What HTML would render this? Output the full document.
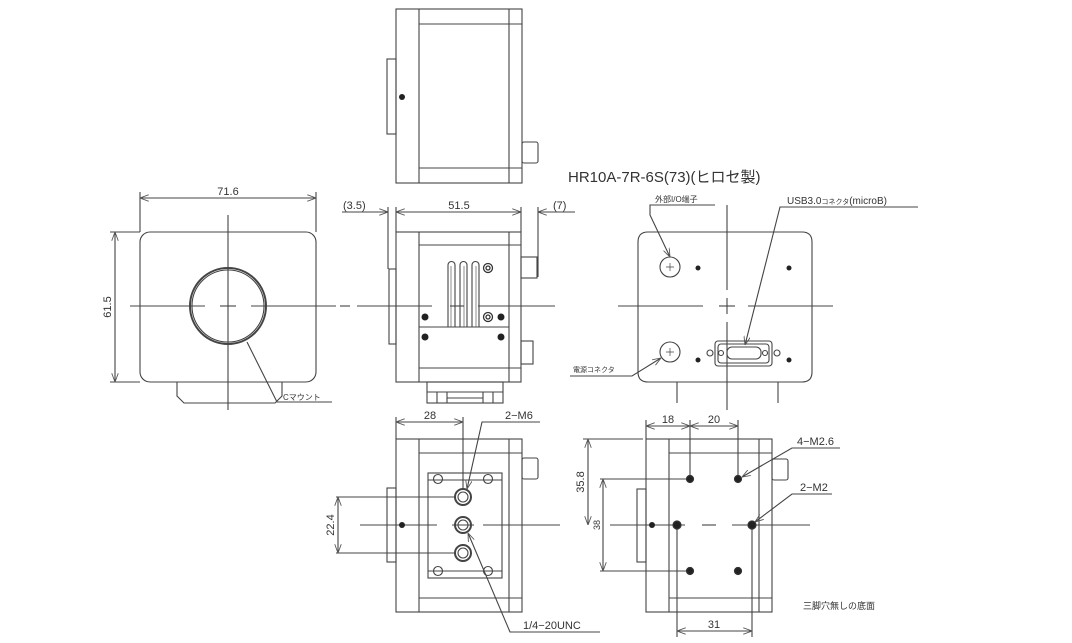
<!DOCTYPE html>
<html><head><meta charset="utf-8"><style>
html,body{margin:0;padding:0;background:#fff;}
svg{display:block;}
text{font-family:"Liberation Sans","Noto Sans CJK JP",sans-serif;fill:#333;}
</style></head><body>
<svg width="1072" height="643" viewBox="0 0 1072 643" xmlns="http://www.w3.org/2000/svg">
<defs>
<marker id="a" markerWidth="8" markerHeight="6" refX="8" refY="3" orient="auto-start-reverse"><path d="M0,0 L8,3 L0,6" fill="none" stroke="#555" stroke-width="0.8"/></marker>
</defs>
<g fill="none" stroke="#444" stroke-width="1.1">
<!-- TOP VIEW -->
<rect x="396" y="9" width="126" height="174"/>
<line x1="419" y1="9" x2="419" y2="183"/><line x1="509" y1="9" x2="509" y2="183"/>
<line x1="419" y1="24" x2="522" y2="24"/><line x1="419" y1="168" x2="522" y2="168"/>
<rect x="387" y="59" width="9" height="75"/>
<rect x="522" y="142" width="16" height="21" rx="2"/>

<!-- FRONT VIEW -->
<rect x="140" y="232" width="176" height="150" rx="10"/>
<path d="M177,382 V396 L184,403 H275 L282,396 V382"/>
<circle cx="228" cy="306" r="38" stroke-width="2"/>
<circle cx="228" cy="306" r="36"/>
<line x1="228" y1="215" x2="228" y2="410"/>
<line x1="130" y1="306" x2="205" y2="306"/><line x1="220" y1="306" x2="236" y2="306"/><line x1="251" y1="306" x2="336" y2="306"/>
<line x1="140" y1="232" x2="140" y2="192"/><line x1="316" y1="232" x2="316" y2="192"/>
<line x1="140" y1="198" x2="316" y2="198" marker-start="url(#a)" marker-end="url(#a)"/>
<line x1="140" y1="232" x2="110" y2="232"/><line x1="140" y1="382" x2="110" y2="382"/>
<line x1="115" y1="232" x2="115" y2="382" marker-start="url(#a)" marker-end="url(#a)"/>
<polyline points="247,342 277,402 332,402"/>

<!-- SIDE VIEW -->
<rect x="396" y="232" width="125" height="150"/>
<line x1="419" y1="232" x2="419" y2="382"/><line x1="509" y1="232" x2="509" y2="382"/>
<line x1="419" y1="245" x2="521" y2="245"/><line x1="419" y1="368" x2="521" y2="368"/>
<line x1="419" y1="327" x2="509" y2="327"/>
<rect x="389" y="269" width="7" height="75"/>
<rect x="521" y="257" width="16" height="21"/>
<rect x="521" y="341" width="12" height="23"/>
<path d="M448,327 V265 A3.5,3.5 0 0 1 455,265 V327 M460,327 V265 A3.5,3.5 0 0 1 467,265 V327 M472,327 V265 A3.5,3.5 0 0 1 479,265 V327"/>
<path d="M451,327 V266 M464,327 V266 M476,327 V266" stroke-width="0.6"/>
<rect x="427" y="382" width="76" height="21"/>
<line x1="427" y1="392" x2="503" y2="392"/><line x1="447" y1="398" x2="483" y2="398"/>
<line x1="437" y1="392" x2="437" y2="403"/><line x1="447" y1="392" x2="447" y2="403"/>
<line x1="483" y1="392" x2="483" y2="403"/><line x1="493" y1="392" x2="493" y2="403"/>
<line x1="340" y1="306" x2="350" y2="306"/><line x1="357" y1="306" x2="432" y2="306"/><line x1="450" y1="306" x2="464" y2="306"/><line x1="478" y1="306" x2="555" y2="306"/>
<line x1="342" y1="212" x2="388" y2="212" marker-end="url(#a)"/>
<line x1="396" y1="212" x2="521" y2="212" marker-start="url(#a)" marker-end="url(#a)"/>
<line x1="538" y1="212" x2="575" y2="212" marker-start="url(#a)"/>
<line x1="388" y1="207" x2="388" y2="269"/><line x1="396" y1="207" x2="396" y2="232"/>
<line x1="521" y1="207" x2="521" y2="232"/><line x1="538" y1="207" x2="538" y2="277"/>

<!-- BACK VIEW -->
<path d="M648,232 H802 Q812,232 812,242 V372 Q812,382 802,382 H648 Q638,382 638,372 V242 Q638,232 648,232 Z"/>
<path d="M677,382 V403 M778,382 V403"/>
<circle cx="670" cy="267" r="10"/><circle cx="670" cy="352" r="10"/>
<path d="M666,267 h8 M670,263 v8 M666,352 h8 M670,348 v8" stroke-width="0.7"/>
<rect x="715" y="341" width="57" height="25" rx="3"/>
<rect x="718" y="344" width="51" height="19" rx="3"/>
<rect x="727" y="347" width="34" height="12" rx="5"/>
<circle cx="710" cy="353" r="3"/><circle cx="721" cy="353" r="2.5"/><circle cx="765" cy="353" r="2.5"/><circle cx="777" cy="353" r="3"/>
<line x1="727" y1="205" x2="727" y2="290"/><line x1="727" y1="298" x2="727" y2="314"/><line x1="727" y1="322" x2="727" y2="410"/>
<line x1="618" y1="306" x2="703" y2="306"/><line x1="719" y1="306" x2="735" y2="306"/><line x1="748" y1="306" x2="833" y2="306"/>
<polyline points="715,205 650,205 650,215 670,257" marker-end="url(#a)"/>
<polyline points="918,207 780,207 745,345" marker-end="url(#a)"/>
<polyline points="570,376 632,376 661,358" marker-end="url(#a)"/>

<!-- BOTTOM LEFT VIEW -->
<rect x="396" y="439" width="126" height="173"/>
<line x1="419" y1="439" x2="419" y2="612"/><line x1="509" y1="439" x2="509" y2="612"/>
<line x1="419" y1="453" x2="522" y2="453"/><line x1="419" y1="598" x2="522" y2="598"/>
<rect x="428" y="473" width="74" height="105"/>
<line x1="428" y1="480" x2="502" y2="480"/><line x1="428" y1="571" x2="502" y2="571"/>
<rect x="387" y="488" width="9" height="74"/>
<rect x="522" y="458" width="16" height="21" rx="2"/>
<circle cx="463" cy="497" r="8" stroke-width="2"/><circle cx="463" cy="497" r="5"/>
<circle cx="463" cy="525" r="8" stroke-width="2"/><circle cx="463" cy="525" r="5"/>
<circle cx="463" cy="553" r="8" stroke-width="2"/><circle cx="463" cy="553" r="5"/>
<circle cx="438" cy="479" r="4.5"/><circle cx="488" cy="479" r="4.5"/><circle cx="438" cy="571" r="4.5"/><circle cx="488" cy="571" r="4.5"/>
<line x1="360" y1="525" x2="437" y2="525"/><line x1="452" y1="525" x2="474" y2="525"/><line x1="483" y1="525" x2="560" y2="525"/>
<line x1="396" y1="417" x2="396" y2="439"/><line x1="463" y1="417" x2="463" y2="489"/>
<line x1="396" y1="422" x2="463" y2="422" marker-start="url(#a)" marker-end="url(#a)"/>
<line x1="336" y1="497" x2="455" y2="497"/><line x1="336" y1="553" x2="455" y2="553"/>
<line x1="338" y1="497" x2="338" y2="553" marker-start="url(#a)" marker-end="url(#a)"/>
<polyline points="540,422 482,422 467,489" marker-end="url(#a)"/>
<polyline points="600,632 510,632 468,533" marker-end="url(#a)"/>

<!-- BOTTOM RIGHT VIEW -->
<rect x="646" y="439" width="126" height="173"/>
<line x1="669" y1="439" x2="669" y2="612"/><line x1="759" y1="439" x2="759" y2="612"/>
<line x1="669" y1="453" x2="772" y2="453"/><line x1="669" y1="598" x2="772" y2="598"/>
<rect x="637" y="489" width="9" height="73"/>
<rect x="772" y="459" width="16" height="21" rx="2"/>
<line x1="610" y1="525" x2="685" y2="525"/><line x1="702" y1="525" x2="716" y2="525"/><line x1="732" y1="525" x2="810" y2="525"/>
<line x1="646" y1="420" x2="646" y2="439"/><line x1="690" y1="420" x2="690" y2="479"/><line x1="738" y1="420" x2="738" y2="479"/>
<line x1="646" y1="426" x2="690" y2="426" marker-start="url(#a)" marker-end="url(#a)"/>
<line x1="690" y1="426" x2="738" y2="426" marker-start="url(#a)" marker-end="url(#a)"/>
<line x1="583" y1="439" x2="643" y2="439"/>
<line x1="588" y1="439" x2="588" y2="525" marker-start="url(#a)" marker-end="url(#a)"/>
<line x1="600" y1="479" x2="686" y2="479"/><line x1="600" y1="571" x2="686" y2="571"/>
<line x1="603" y1="479" x2="603" y2="571" marker-start="url(#a)" marker-end="url(#a)"/>
<line x1="677" y1="525" x2="677" y2="637"/><line x1="752" y1="525" x2="752" y2="637"/>
<line x1="677" y1="631" x2="752" y2="631" marker-start="url(#a)" marker-end="url(#a)"/>
<polyline points="840,448 792,448 742,477" marker-end="url(#a)"/>
<polyline points="832,494 792,494 755,522" marker-end="url(#a)"/>
</g>
<g fill="#222">
<circle cx="402" cy="97" r="3"/>
<circle cx="425" cy="317" r="3.5"/><circle cx="425" cy="337" r="3.5"/><circle cx="501" cy="317" r="3.5"/><circle cx="501" cy="337" r="3.5"/>
<circle cx="698" cy="268" r="2.5"/><circle cx="789" cy="268" r="2.5"/><circle cx="698" cy="360" r="2.5"/><circle cx="789" cy="360" r="2.5"/>
<circle cx="402" cy="525" r="3"/>
<circle cx="652" cy="525" r="3"/>
</g>
<g fill="none" stroke="#333" stroke-width="1.3">
<circle cx="488" cy="317" r="4.5"/><circle cx="488" cy="317" r="2"/>
<circle cx="488" cy="268" r="4.5"/><circle cx="488" cy="268" r="2"/>
</g>
<g fill="#222" stroke="#333" stroke-width="1.2">
<circle cx="690" cy="479" r="3.5"/><circle cx="738" cy="479" r="3.5"/><circle cx="690" cy="571" r="3.5"/><circle cx="738" cy="571" r="3.5"/>
<circle cx="677" cy="525" r="4"/><circle cx="752" cy="525" r="4"/>
</g>
<g font-size="11">
<text x="228" y="195" text-anchor="middle">71.6</text>
<text x="0" y="0" transform="translate(111,307) rotate(-90)" text-anchor="middle">61.5</text>
<text x="283" y="400" font-size="8">Cマウント</text>
<text x="343" y="209">(3.5)</text>
<text x="459" y="209" text-anchor="middle">51.5</text>
<text x="553" y="209">(7)</text>
<text x="568" y="182" font-size="15" fill="#222">HR10A-7R-6S(73)(ヒロセ製)</text>
<text x="655" y="202" font-size="8">外部I/O端子</text>
<text x="787" y="204" font-size="10">USB3.0<tspan font-size="7">コネクタ</tspan>(microB)</text>
<text x="573" y="372" font-size="7">電源コネクタ</text>
<text x="430" y="419" text-anchor="middle">28</text>
<text x="505" y="419">2−M6</text>
<text x="0" y="0" transform="translate(334,525) rotate(-90)" text-anchor="middle">22.4</text>
<text x="523" y="629">1/4−20UNC</text>
<text x="668" y="423" text-anchor="middle">18</text>
<text x="714" y="423" text-anchor="middle">20</text>
<text x="0" y="0" transform="translate(584,482) rotate(-90)" text-anchor="middle">35.8</text>
<text x="0" y="0" transform="translate(600,525) rotate(-90)" text-anchor="middle" font-size="9">38</text>
<text x="714" y="628" text-anchor="middle">31</text>
<text x="797" y="445">4−M2.6</text>
<text x="800" y="491">2−M2</text>
<text x="803" y="609" font-size="9">三脚穴無しの底面</text>
</g>
</svg>
</body></html>
